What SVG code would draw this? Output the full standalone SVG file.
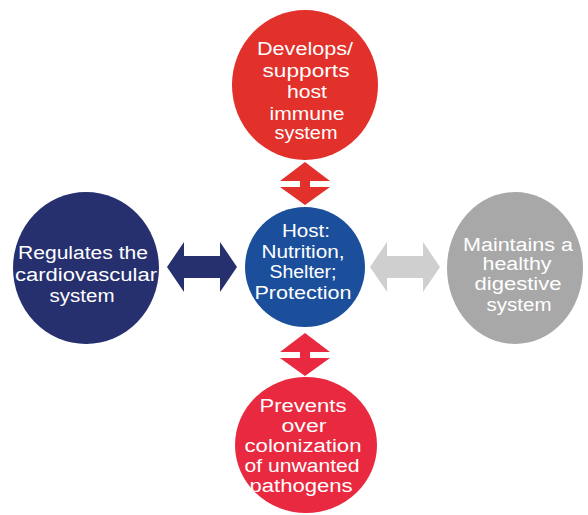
<svg xmlns="http://www.w3.org/2000/svg" width="588" height="515" viewBox="0 0 588 515">
  <style>
    .lbl { font-family: "Liberation Sans", Arial, sans-serif; font-size: 18px; fill: #ffffff; text-anchor: middle; }
  </style>
  <defs>
    <!-- double-headed arrow, horizontal, centred on 0,0 -->
    <path id="arrowH" d="M-35,0 L-18,-25 L-18,-11 L18,-11 L18,-25 L35,0 L18,25 L18,11 L-18,11 L-18,25 Z"/>
    <!-- compact double-headed arrow, vertical, centred on 0,0 -->
    <path id="arrowV" d="M0,-22 L25,-3 L5,-3 L5,3 L25,3 L0,21 L-25,3 L-5,3 L-5,-3 L-25,-3 Z"/>
  </defs>
  <rect width="588" height="515" fill="#ffffff"/>

  <g id="connectors">
    <use href="#arrowV" x="305" y="184" fill="#e2302a"/>
    <use href="#arrowV" x="305" y="355" fill="#e8293f"/>
    <use href="#arrowH" x="202" y="267" fill="#27306e"/>
    <use href="#arrowH" x="405" y="267" fill="#cfcfcf"/>
  </g>

  <g id="immune">
    <ellipse cx="305" cy="85" rx="73" ry="75" fill="#e2302a"/>
    <text class="lbl" x="305" y="55" textLength="96" lengthAdjust="spacingAndGlyphs">Develops/</text>
    <text class="lbl" x="306" y="76.5" textLength="87" lengthAdjust="spacingAndGlyphs">supports</text>
    <text class="lbl" x="307" y="98" textLength="40" lengthAdjust="spacingAndGlyphs">host</text>
    <text class="lbl" x="307" y="119.5" textLength="75" lengthAdjust="spacingAndGlyphs">immune</text>
    <text class="lbl" x="306" y="139" textLength="63" lengthAdjust="spacingAndGlyphs">system</text>
  </g>

  <g id="host">
    <circle cx="305" cy="267" r="60" fill="#1b4f9c"/>
    <text class="lbl" x="306" y="237" textLength="48" lengthAdjust="spacingAndGlyphs">Host:</text>
    <text class="lbl" x="303" y="257.5" textLength="83" lengthAdjust="spacingAndGlyphs">Nutrition,</text>
    <text class="lbl" x="303" y="278" textLength="67" lengthAdjust="spacingAndGlyphs">Shelter;</text>
    <text class="lbl" x="303" y="299" textLength="97" lengthAdjust="spacingAndGlyphs">Protection</text>
  </g>

  <g id="cardio">
    <ellipse cx="86" cy="268" rx="73" ry="76" fill="#27306e"/>
    <text class="lbl" x="83" y="259" textLength="130" lengthAdjust="spacingAndGlyphs">Regulates the</text>
    <text class="lbl" x="86" y="281" textLength="142" lengthAdjust="spacingAndGlyphs">cardiovascular</text>
    <text class="lbl" x="82" y="302" textLength="65" lengthAdjust="spacingAndGlyphs">system</text>
  </g>

  <g id="digestive">
    <ellipse cx="515" cy="268" rx="68" ry="76" fill="#a8a8a8"/>
    <text class="lbl" x="518" y="251" textLength="110" lengthAdjust="spacingAndGlyphs">Maintains a</text>
    <text class="lbl" x="517" y="270" textLength="69" lengthAdjust="spacingAndGlyphs">healthy</text>
    <text class="lbl" x="518" y="290" textLength="87" lengthAdjust="spacingAndGlyphs">digestive</text>
    <text class="lbl" x="519" y="310.5" textLength="65" lengthAdjust="spacingAndGlyphs">system</text>
  </g>

  <g id="pathogens">
    <ellipse cx="306" cy="445" rx="71" ry="68" fill="#e8293f"/>
    <text class="lbl" x="303" y="412" textLength="87" lengthAdjust="spacingAndGlyphs">Prevents</text>
    <text class="lbl" x="304" y="432" textLength="45" lengthAdjust="spacingAndGlyphs">over</text>
    <text class="lbl" x="303" y="452" textLength="117" lengthAdjust="spacingAndGlyphs">colonization</text>
    <text class="lbl" x="302" y="472" textLength="115" lengthAdjust="spacingAndGlyphs">of unwanted</text>
    <text class="lbl" x="301" y="492" textLength="103" lengthAdjust="spacingAndGlyphs">pathogens</text>
  </g>
</svg>
